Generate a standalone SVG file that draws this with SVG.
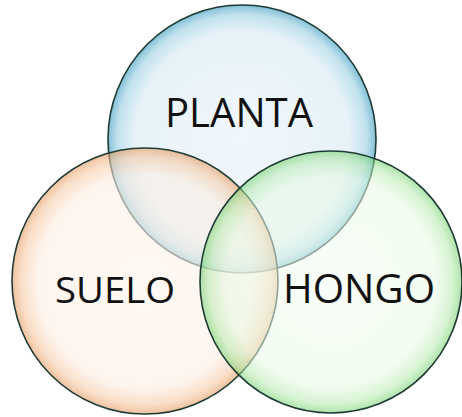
<svg xmlns="http://www.w3.org/2000/svg" width="462" height="417" viewBox="0 0 462 417">
<style>
.c{stroke:#1f3b35;stroke-width:1.6;}
.t{font-family:"Open Sans","Liberation Sans",sans-serif;fill:#111;}
</style>
<defs>
<radialGradient id="gb" cx="0.5" cy="0.5" r="0.5">
<stop offset="0" stop-color="#eef6fb"/>
<stop offset="0.8" stop-color="#e2f0f7"/>
<stop offset="0.93" stop-color="#b6dcea"/>
<stop offset="1" stop-color="#6cb5cf"/>
</radialGradient>
<radialGradient id="go" cx="0.5" cy="0.5" r="0.5">
<stop offset="0" stop-color="#fff4ec"/>
<stop offset="0.8" stop-color="#fdeee2"/>
<stop offset="0.93" stop-color="#f6c9a4"/>
<stop offset="1" stop-color="#e3995f"/>
</radialGradient>
<radialGradient id="gg" cx="0.5" cy="0.5" r="0.5">
<stop offset="0" stop-color="#f3fdf1"/>
<stop offset="0.8" stop-color="#e8fae5"/>
<stop offset="0.93" stop-color="#b4eaac"/>
<stop offset="1" stop-color="#6fcc69"/>
</radialGradient>
</defs>
<g id="planta">
<circle class="c" cx="242" cy="139" r="134" fill="url(#gb)" fill-opacity="0.85"/>
<text class="t" x="239" y="127" font-size="40" text-anchor="middle" textLength="148" lengthAdjust="spacingAndGlyphs">PLANTA</text>
</g>
<g id="suelo">
<circle class="c" cx="145" cy="281" r="133" fill="url(#go)" fill-opacity="0.6"/>
<text class="t" x="115" y="303" font-size="36" text-anchor="middle" textLength="120" lengthAdjust="spacingAndGlyphs">SUELO</text>
</g>
<g id="hongo">
<circle class="c" cx="331" cy="282" r="131" fill="url(#gg)" fill-opacity="0.55"/>
<text class="t" x="359" y="303" font-size="40" text-anchor="middle" textLength="152" lengthAdjust="spacingAndGlyphs">HONGO</text>
</g>
<g id="connectors"/>
</svg>
